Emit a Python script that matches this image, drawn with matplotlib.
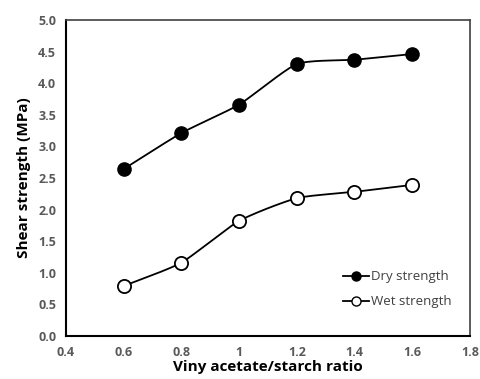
import numpy as np
import matplotlib
matplotlib.use('Agg')
from matplotlib import pyplot as plt
from matplotlib.lines import Line2D

# data
ratio = [0.6, 0.8, 1.0, 1.2, 1.4, 1.6]
dry_strength = [2.64, 3.21, 3.66, 4.30, 4.37, 4.46]
wet_strength = [0.79, 1.16, 1.82, 2.18, 2.28, 2.39]

plt.rcParams['font.family'] = ['Open Sans', 'DejaVu Sans']


def smooth(x, y, n=30):
    # Catmull-Rom style curve like Excel's smoothed line
    x = np.asarray(x, float)
    y = np.asarray(y, float)
    px = np.concatenate([[2*x[0]-x[1]], x, [2*x[-1]-x[-2]]])
    py = np.concatenate([[2*y[0]-y[1]], y, [2*y[-1]-y[-2]]])
    xs, ys = [], []
    t = np.linspace(0, 1, n)
    for i in range(1, len(px)-2):
        for p, out in ((px, xs), (py, ys)):
            p0, p1, p2, p3 = p[i-1], p[i], p[i+1], p[i+2]
            m1 = (p2 - p0) / 2 * 0.6
            m2 = (p3 - p1) / 2 * 0.6
            h00 = 2*t**3 - 3*t**2 + 1
            h10 = t**3 - 2*t**2 + t
            h01 = -2*t**3 + 3*t**2
            h11 = t**3 - t**2
            out.extend(h00*p1 + h10*m1 + h01*p2 + h11*m2)
    return xs, ys


fig = plt.figure(figsize=(4.81, 3.79), dpi=100)
ax = fig.add_axes([0.137, 0.1135, 0.84, 0.834])

sx, sy = smooth(ratio, dry_strength)
ax.plot(sx, sy, color='black', lw=1.3)
ax.plot(ratio, dry_strength, 'o', color='black', ms=9.5, mfc='black')
sx, sy = smooth(ratio, wet_strength)
ax.plot(sx, sy, color='black', lw=1.3)
ax.plot(ratio, wet_strength, 'o', color='black', ms=9.5, mfc='white', mew=1.3)

ax.set_xlim(0.4, 1.8)
ax.set_ylim(0, 5)
ax.set_xticks([0.4, 0.6, 0.8, 1.0, 1.2, 1.4, 1.6, 1.8])
ax.set_xticklabels(['0.4', '0.6', '0.8', '1', '1.2', '1.4', '1.6', '1.8'])
ax.set_yticks(np.arange(0, 5.01, 0.5))
ax.set_yticklabels(['%.1f' % v for v in np.arange(0, 5.01, 0.5)])
ax.tick_params(length=0, labelsize=9, labelcolor='#595959', pad=7)
for lab in ax.get_xticklabels() + ax.get_yticklabels():
    lab.set_fontweight('bold')

for s in ['left', 'bottom']:
    ax.spines[s].set_linewidth(1.5)
    ax.spines[s].set_color('black')
for s in ['top', 'right']:
    ax.spines[s].set_linewidth(1.2)
    ax.spines[s].set_color('#404040')

ax.set_xlabel('Viny acetate/starch ratio', fontsize=11, fontweight='bold', labelpad=1)
ax.set_ylabel('Shear strength (MPa)', fontsize=11, fontweight='bold', labelpad=5)

handles = [Line2D([0], [0], color='black', lw=1.3, marker='o', ms=6.5, mfc='black'),
           Line2D([0], [0], color='black', lw=1.3, marker='o', ms=6.5, mfc='white')]
ax.legend(handles, ['Dry strength', 'Wet strength'], loc='lower right',
          bbox_to_anchor=(0.985, 0.05), frameon=False, fontsize=9.5,
          handlelength=2.0, handletextpad=0.15, labelspacing=0.9,
          labelcolor='#404040')

plt.savefig('out.png', dpi=100)
